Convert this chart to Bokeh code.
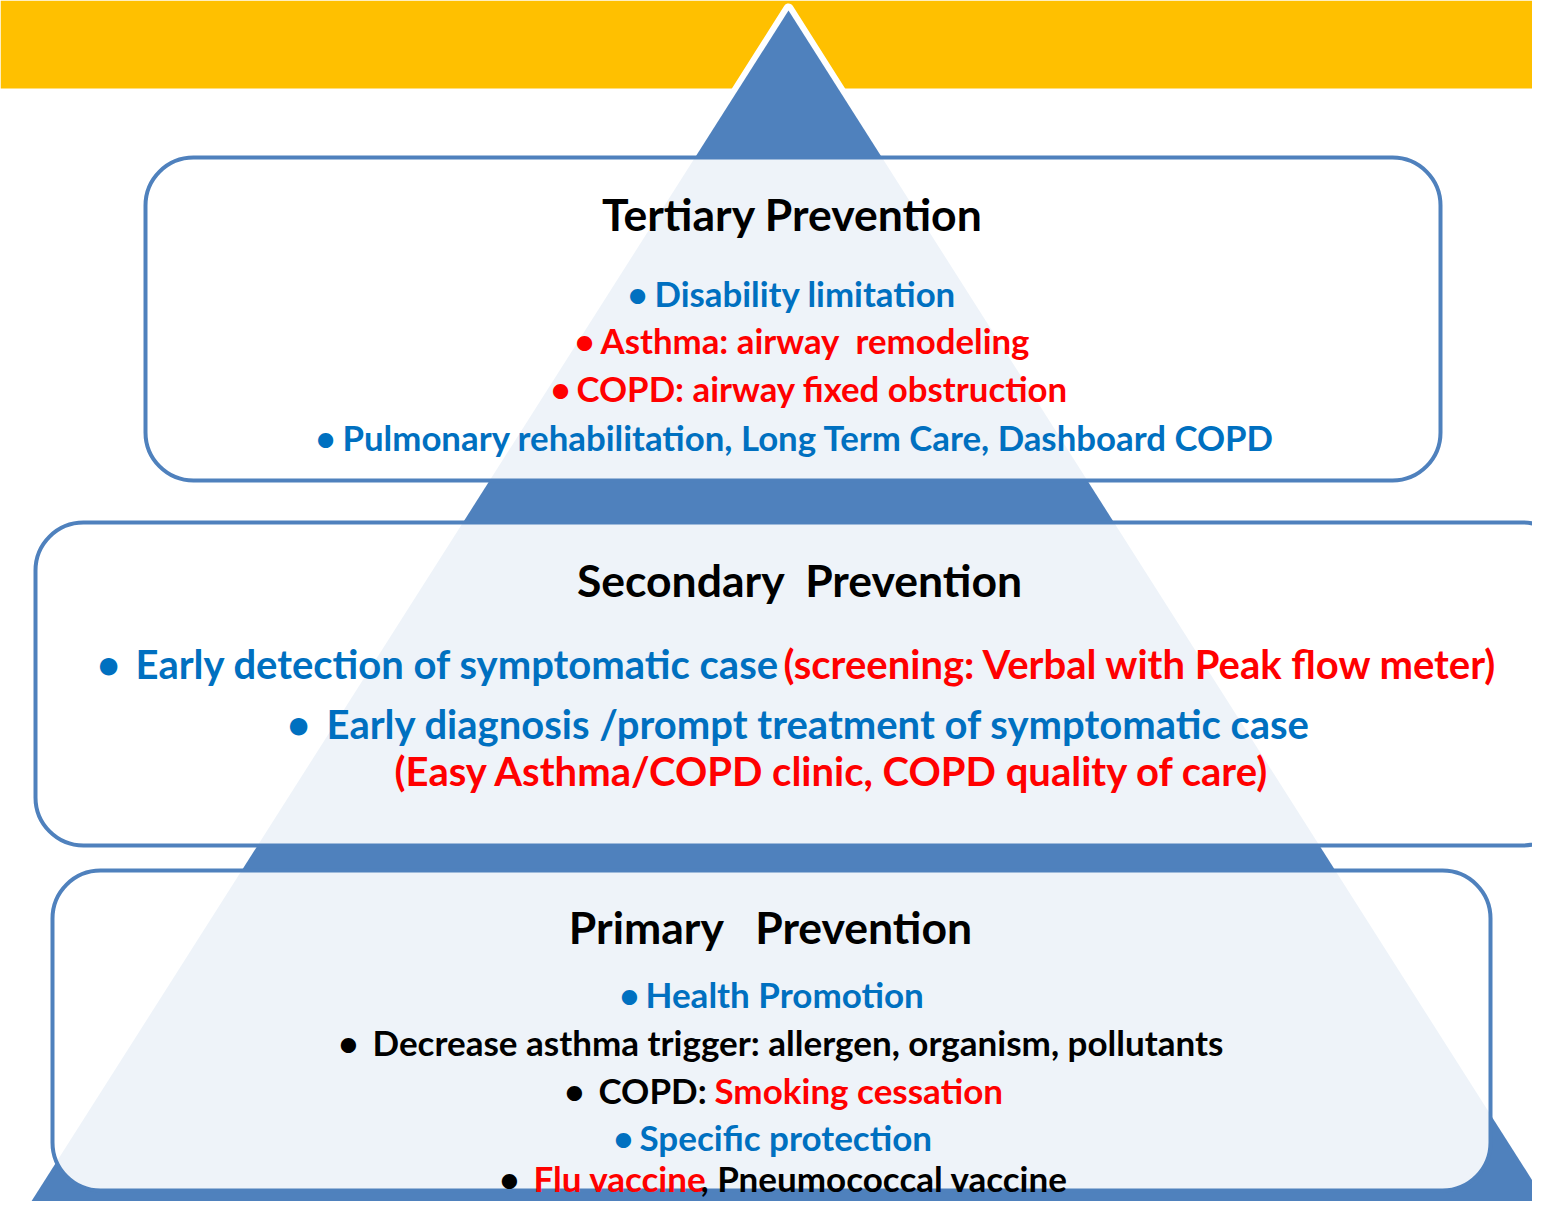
from bokeh.plotting import figure
from bokeh.models import Range1d, ColumnDataSource
from bokeh.core.properties import value
from bokeh.embed import file_html
from bokeh.resources import INLINE

# ---------------- content ----------------
headers = ["Tertiary Prevention", "Secondary\u00a0 Prevention", "Primary\u00a0\u00a0 Prevention"]

tertiary_items = ["Disability limitation",
                  "Asthma: airway\u00a0 remodeling",
                  "COPD: airway fixed obstruction",
                  "Pulmonary rehabilitation, Long Term Care, Dashboard COPD"]
tertiary_colors = ["blue", "red", "red", "blue"]

secondary_items = ["Early detection of symptomatic case",
                   "Early diagnosis /prompt treatment of symptomatic case"]
secondary_colors = ["blue", "blue"]
secondary_notes = ["(screening: Verbal with Peak flow meter)",
                   "(Easy Asthma/COPD clinic, COPD quality of care)"]

primary_items = ["Health Promotion",
                 "Decrease asthma trigger: allergen, organism, pollutants",
                 "COPD:",
                 "Specific protection",
                 "Flu vaccine"]
primary_colors = ["blue", "black", "black", "blue", "red"]
primary_tails = ["Smoking cessation", ", Pneumococcal vaccine"]
primary_tail_colors = ["red", "black"]

PALETTE = {"blue": "#0070C0", "red": "#FF0000", "black": "#000000"}
FONT = value("Lato")

# ---------------- layout (pixel space of the picture) ----------------
band = dict(left=[0], right=[1548], top=[0], bottom=[88])
tri_x = [788, 6, 1570]
tri_y = [10, 1240, 1240]
apex_x = [693, 788, 883]
apex_y = [158, 8, 158]
box_left = [145, 35, 52]
box_right = [1440, 1570, 1490]
box_top = [157, 522, 870]
box_bottom = [480, 845, 1190]

header_x = [792, 799, 770]
header_y = [213, 579, 926]

ter_bullet_x = [637, 584, 560, 325]
ter_text_x = [654, 600, 576, 342]
ter_y = [293, 340, 388, 437]

sec_bullet_x = [108, 298]
sec_text_x = [135, 326]
sec_y = [663, 723]
sec_note_x = [783, 394]
sec_note_y = [663, 770]

pri_bullet_x = [629, 348, 574, 623, 509]
pri_text_x = [645, 372, 598, 639, 533]
pri_y = [993, 1041, 1089, 1136, 1177]
pri_tail_x = [714, 700]
pri_tail_y = [1089, 1177]

HEAD_SIZE = "44.5px"
TER_SIZE = "34.8px"
SEC_SIZE = "40px"
PRI_SIZE = "35px"

p = figure(width=1532, height=1201, x_range=Range1d(0, 1532), y_range=Range1d(1201, 0),
           output_backend="svg", toolbar_location=None, min_border=0)
p.axis.visible = False
p.grid.visible = False
p.outline_line_color = None
p.background_fill_color = "white"
p.border_fill_color = "white"

p.quad(**band, fill_color="#FFC000", line_color=None)
p.line(x=apex_x, y=apex_y, line_color="white", line_width=10, line_join="round")
p.patch(x=tri_x, y=tri_y, fill_color="#4F81BD", line_color=None)
p.quad(left=box_left, right=box_right, top=box_top, bottom=box_bottom,
       fill_color="white", fill_alpha=0.9, line_color="#4F81BD", line_width=4,
       border_radius=48)

def txt(xs, ys, texts, colors, size, align="left"):
    src = ColumnDataSource(dict(x=xs, y=ys, t=texts, c=[PALETTE[c] for c in colors]))
    p.text(x="x", y="y", text="t", text_color="c", source=src, text_font=FONT,
           text_font_style="bold", text_font_size=size, text_align=align,
           text_baseline="middle")

txt(header_x, header_y, headers, ["black"] * 3, HEAD_SIZE, "center")

txt(ter_bullet_x, ter_y, ["•"] * 4, tertiary_colors, TER_SIZE, "center")
txt(ter_text_x, ter_y, tertiary_items, tertiary_colors, TER_SIZE)

txt(sec_bullet_x, sec_y, ["•"] * 2, secondary_colors, SEC_SIZE, "center")
txt(sec_text_x, sec_y, secondary_items, secondary_colors, SEC_SIZE)
txt(sec_note_x, sec_note_y, secondary_notes, ["red", "red"], SEC_SIZE)

txt(pri_bullet_x, pri_y, ["•"] * 5, ["blue", "black", "black", "blue", "black"], PRI_SIZE, "center")
txt(pri_text_x, pri_y, primary_items, primary_colors, PRI_SIZE)
txt(pri_tail_x, pri_tail_y, primary_tails, primary_tail_colors, PRI_SIZE)

open("out.html", "w").write(file_html(p, INLINE))
